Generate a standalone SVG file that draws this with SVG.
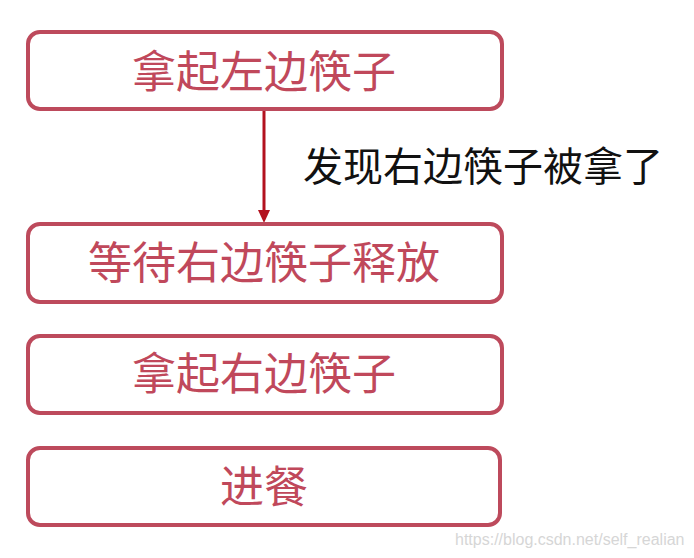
<svg xmlns="http://www.w3.org/2000/svg" width="694" height="558" viewBox="0 0 694 558">
<style>
.box{fill:#ffffff;stroke:#bd4a5c;stroke-width:4}
.bt{font-family:"Noto Sans CJK SC","Noto Sans",sans-serif;font-size:44px;fill:#c0485b;text-anchor:middle}
.lbl{font-family:"Noto Sans CJK SC","Noto Sans",sans-serif;font-size:40px;fill:#111111}
.wm{font-family:"Liberation Sans Narrow","Liberation Sans",sans-serif;font-size:16px;fill:#d6d6d6}
</style>
<defs>
<marker id="ah" markerWidth="10" markerHeight="12" refX="5" refY="12" orient="auto" markerUnits="userSpaceOnUse" viewBox="0 0 10 12">
<path d="M0,0 L10,0 L5,12 Z" fill="#b3121f" transform="rotate(-90 5 6)"/>
</marker>
</defs>
<rect width="694" height="558" fill="#ffffff"/>
<g id="connectors">
<line x1="264" y1="109" x2="264" y2="210" stroke="#b3121f" stroke-width="3"/>
<path d="M258,210 L270,210 L264,223 Z" fill="#b3121f"/>
<text class="lbl" x="303" y="181">发现右边筷子被拿了</text>
</g>
<g id="n1"><rect class="box" x="28" y="32" width="474" height="77" rx="12"/><text class="bt" x="264" y="88">拿起左边筷子</text></g>
<g id="n2"><rect class="box" x="28" y="224" width="474" height="78" rx="12"/><text class="bt" x="264" y="279">等待右边筷子释放</text></g>
<g id="n3"><rect class="box" x="28" y="336" width="474" height="77" rx="12"/><text class="bt" x="264" y="390">拿起右边筷子</text></g>
<g id="n4"><rect class="box" x="28" y="448" width="472" height="77" rx="12"/><text class="bt" x="264" y="503">进餐</text></g>
<text class="wm" x="455" y="545">https://blog.csdn.net/self_realian</text>
</svg>
